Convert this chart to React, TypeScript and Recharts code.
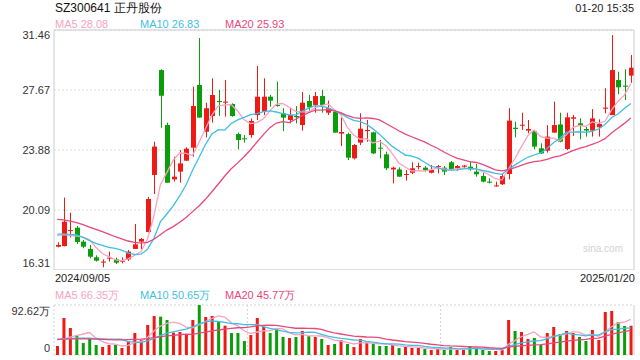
import React from 'react';
import { ComposedChart, Bar, Line, XAxis, YAxis, CartesianGrid, ReferenceLine, Cell } from 'recharts';

// daily candles, 2024/09/05 .. 2025/01/20
const opens = [
  17.78, 17.82, 18.77, 18.98, 18.10, 17.64, 17.11, 16.79, 17.03, 16.98,
  16.84, 16.98, 17.64, 18.10, 18.71, 22.31, 28.93, 25.46, 22.03, 22.52,
  23.21, 24.03, 27.99, 25.04, 26.03, 26.98, 26.87, 26.79, 24.89, 24.62,
  24.83, 26.09, 26.30, 27.25, 26.73, 26.20, 25.78, 26.03, 25.46, 26.98,
  26.73, 27.29, 26.24, 26.30, 24.92, 24.89, 23.36, 24.35, 25.08, 25.00,
  24.03, 23.61, 22.66, 22.66, 22.31, 22.45, 22.83, 22.77, 22.45, 22.83,
  22.77, 23.11, 22.73, 22.83, 22.83, 22.52, 22.24, 21.89, 21.61, 21.72,
  22.37, 25.29, 25.42, 25.11, 25.08, 23.99, 23.84, 24.98, 25.50, 23.95,
  25.86, 25.57, 25.21, 25.11, 25.32, 26.49, 26.09, 28.30, 27.95, 28.58,
];
const closes = [
  17.89, 19.36, 18.83, 18.08, 17.78, 17.15, 16.90, 16.84, 17.09, 16.77,
  16.90, 17.47, 17.93, 18.27, 20.79, 24.10, 27.31, 21.82, 22.20, 23.04,
  23.97, 26.66, 25.93, 26.52, 27.36, 26.91, 26.94, 26.03, 24.52, 24.56,
  25.72, 27.25, 27.25, 27.00, 26.66, 25.93, 26.09, 25.95, 26.87, 26.58,
  27.29, 26.73, 26.52, 24.98, 25.02, 23.40, 24.20, 25.23, 25.15, 23.67,
  23.97, 22.73, 22.77, 22.20, 22.37, 22.73, 22.87, 22.62, 22.62, 22.87,
  22.52, 22.62, 22.87, 22.90, 22.66, 22.35, 21.89, 21.82, 21.65, 22.24,
  25.74, 25.21, 25.48, 25.21, 24.10, 23.67, 24.73, 25.46, 24.41, 25.95,
  25.95, 25.42, 25.11, 25.88, 25.53, 26.56, 28.93, 27.84, 27.88, 29.08,
];
const highs = [
  18.06, 20.88, 19.93, 19.09, 18.20, 17.89, 17.24, 16.98, 17.47, 17.09,
  17.11, 17.57, 19.21, 18.33, 20.92, 24.41, 28.98, 25.61, 23.46, 23.88,
  24.05, 27.88, 30.95, 26.87, 28.41, 27.67, 28.30, 26.83, 24.98, 24.83,
  25.88, 29.19, 28.41, 27.36, 28.20, 26.52, 26.56, 26.66, 27.55, 27.36,
  27.55, 27.67, 27.00, 26.41, 25.93, 24.98, 24.26, 26.20, 25.78, 25.04,
  24.52, 23.78, 22.83, 22.79, 22.62, 23.11, 23.08, 22.87, 22.94, 22.94,
  22.87, 23.19, 22.94, 22.94, 23.15, 23.00, 22.45, 22.10, 21.89, 22.41,
  26.52, 25.67, 26.24, 25.78, 25.15, 24.31, 25.46, 26.94, 26.24, 26.24,
  26.09, 25.88, 25.36, 26.47, 25.82, 27.78, 31.14, 28.83, 28.98, 29.88,
];
const lows = [
  17.74, 17.80, 18.37, 17.95, 17.68, 17.05, 16.84, 16.48, 16.84, 16.69,
  16.73, 16.88, 17.64, 17.62, 18.69, 21.11, 25.29, 21.82, 21.89, 21.82,
  23.21, 23.46, 25.93, 24.68, 25.61, 26.03, 25.99, 25.99, 23.93, 24.35,
  24.66, 25.78, 26.09, 26.62, 26.62, 25.08, 25.57, 25.57, 25.11, 26.37,
  26.24, 26.24, 26.09, 24.98, 24.14, 23.25, 23.29, 24.20, 24.41, 23.63,
  23.36, 22.62, 21.78, 22.20, 21.95, 22.37, 22.66, 22.52, 22.41, 22.41,
  22.31, 22.58, 22.58, 22.73, 22.58, 22.20, 21.84, 21.78, 21.57, 21.68,
  22.03, 24.68, 25.15, 24.94, 23.93, 23.63, 23.72, 24.98, 24.37, 23.88,
  24.77, 24.56, 24.73, 24.73, 24.73, 26.20, 26.09, 27.40, 27.04, 28.13,
];
// volume in 万
const volumes = [
  16.7, 68.5, 50.0, 37.1, 22.2, 30.3, 18.5, 14.8, 18.5, 18.5,
  13.0, 24.7, 40.8, 28.4, 55.6, 72.2, 71.0, 64.8, 41.4, 42.6,
  38.3, 64.8, 92.62, 70.4, 72.2, 62.4, 54.3, 40.8, 40.8, 25.9,
  37.0, 68.5, 51.9, 40.8, 48.2, 33.3, 31.5, 33.3, 44.5, 35.2,
  33.3, 29.6, 18.5, 20.4, 27.8, 20.4, 14.8, 29.6, 22.2, 20.4,
  16.7, 16.7, 18.5, 13.0, 14.8, 13.0, 13.0, 11.1, 9.3, 11.1,
  9.3, 14.8, 9.3, 9.3, 16.7, 13.0, 9.3, 7.4, 7.4, 9.3,
  64.8, 44.5, 42.6, 29.6, 31.5, 18.5, 40.8, 51.9, 38.9, 44.5,
  40.8, 33.3, 25.9, 46.3, 27.8, 79.7, 81.5, 61.1, 53.7, 54.2,
];

// MA values before a full window exists
const ma5Head = [18.5, 18.55, 18.5, 18.45];
const ma10Head = [18.58, 18.58, 18.56, 18.52, 18.37, 18.16, 17.99, 17.87, 17.74];
const ma20Head = [19.51, 19.47, 19.40, 19.30, 19.17, 19.02, 18.88, 18.73, 18.58, 18.41,
  18.27, 18.14, 18.06, 18.01, 18.06, 18.25, 18.54, 18.83, 19.05];
const vma5Head = [28, 30, 33, 36];
const vma10Head = [29, 30, 30.5, 31, 31, 31, 30.5, 30, 29.5];
const vma20Head = [29, 29.5, 30, 30, 30, 30, 29.5, 29, 28.5, 28, 28, 28.5, 29, 29.5, 30.5, 32, 34, 35.5, 36.5];

const priceTicks = [16.31, 20.09, 23.88, 27.67, 31.46];
const volTicks = [0, 92.62];

const title = 'SZ300641 正丹股份';
const timeLabel = '01-20 15:35';
const startDate = '2024/09/05';
const endDate = '2025/01/20';
const priceLegend = ['MA5 28.08', 'MA10 26.83', 'MA20 25.93'];
const volLegend = ['MA5 66.35万', 'MA10 50.65万', 'MA20 45.77万'];

const RED = '#f01a14';
const GREEN = '#0a9e0a';
const MA_COLORS = ['#f8a2c2', '#3fbfe2', '#e8477e'];
const FONT = '"Liberation Sans", Arial, sans-serif';

const movingAvg = (vals: number[], n: number, head: number[]) =>
  vals.map((_, i) => {
    if (i < n - 1) return head[i];
    let s = 0;
    for (let k = i - n + 1; k <= i; k++) s += vals[k];
    return s / n;
  });

const ma5 = movingAvg(closes, 5, ma5Head);
const ma10 = movingAvg(closes, 10, ma10Head);
const ma20 = movingAvg(closes, 20, ma20Head);
const vma5 = movingAvg(volumes, 5, vma5Head);
const vma10 = movingAvg(volumes, 10, vma10Head);
const vma20 = movingAvg(volumes, 20, vma20Head);

const data = closes.map((c, i) => ({
  i,
  open: opens[i],
  close: c,
  high: highs[i],
  low: lows[i],
  range: [lows[i], highs[i]],
  ma5: ma5[i],
  ma10: ma10[i],
  ma20: ma20[i],
  vol: volumes[i],
  vma5: vma5[i],
  vma10: vma10[i],
  vma20: vma20[i],
}));

const Candle = (props: any) => {
  const { x, y, width, height, payload } = props;
  const { open, close, high, low } = payload;
  const color = close >= open ? RED : GREEN;
  const top = Math.min(y, y + height);
  const h = Math.abs(height);
  const ppu = h / (high - low);
  const bodyTop = top + (high - Math.max(open, close)) * ppu;
  const bodyH = Math.max(1, Math.abs(open - close) * ppu);
  const cx = Math.round(x + width / 2) + 0.5;
  return (
    <g>
      <line x1={cx} x2={cx} y1={top} y2={top + h} stroke={color} strokeWidth={1} />
      <rect x={cx - width / 2} y={bodyTop} width={width} height={bodyH} fill={color} />
    </g>
  );
};

const PriceTick = (props: any) => {
  const { x, y, payload } = props;
  let dy = 4;
  if (payload.value === priceTicks[priceTicks.length - 1]) dy = 9;
  if (payload.value === priceTicks[0]) dy = -3;
  return (
    <text x={x} y={y + dy} textAnchor="end" fontSize={11} fill="#333" fontFamily={FONT}>
      {payload.value.toFixed(2)}
    </text>
  );
};

const VolTick = (props: any) => {
  const { x, y, payload } = props;
  const isTop = payload.value === volTicks[1];
  return (
    <text x={x} y={y + (isTop ? 10 : -3)} textAnchor="end" fontSize={11} fill="#333" fontFamily={FONT}>
      {isTop ? payload.value.toFixed(2) + '万' : '0'}
    </text>
  );
};

const Legend = ({ items, top }: { items: string[]; top: number }) => (
  <>
    {items.map((t, k) => (
      <div key={t} style={{ position: 'absolute', left: 55 + k * 85, top, fontSize: 11, lineHeight: '14px', color: MA_COLORS[k], whiteSpace: 'nowrap' }}>
        {t}
      </div>
    ))}
  </>
);

const App = () => {
  return (
    <div style={{ position: 'absolute', left: 0, top: 0, width: 640, height: 360, background: '#fff', fontFamily: FONT, overflow: 'hidden' }}>
      <div style={{ position: 'absolute', left: 55, top: 1, fontSize: 12, lineHeight: '14px', color: '#111' }}>{title}</div>
      <div style={{ position: 'absolute', right: 6, top: 1, fontSize: 11, lineHeight: '14px', color: '#222' }}>{timeLabel}</div>
      <Legend items={priceLegend} top={17} />

      <div style={{ position: 'absolute', left: 0, top: 0 }}>
        <ComposedChart width={640} height={270} data={data} margin={{ top: 30, right: 0, bottom: 0, left: 0 }}>
          <CartesianGrid vertical={false} stroke="#dcdcdc" strokeDasharray="2 2" />
          <XAxis dataKey="i" type="category" hide />
          <YAxis
            domain={[16.31, 31.46]}
            ticks={priceTicks}
            interval={0}
            allowDataOverflow
            width={54}
            tickSize={0}
            tickMargin={4}
            tickLine={false}
            axisLine={{ stroke: '#cccccc' }}
            tick={<PriceTick />}
          />
          <YAxis yAxisId="r" orientation="right" width={6} domain={[16.31, 31.46]} tick={false} tickLine={false} axisLine={{ stroke: '#cccccc' }} />
          <ReferenceLine y={31.46} stroke="#cccccc" />
          <ReferenceLine y={16.31} stroke="#cccccc" />
          <Bar dataKey="range" barSize={5} shape={(p: any) => <Candle {...p} />} isAnimationActive={false} />
          <Line dataKey="ma5" type="linear" stroke={MA_COLORS[0]} strokeWidth={1.3} dot={false} activeDot={false} isAnimationActive={false} />
          <Line dataKey="ma10" type="linear" stroke={MA_COLORS[1]} strokeWidth={1.3} dot={false} activeDot={false} isAnimationActive={false} />
          <Line dataKey="ma20" type="linear" stroke={MA_COLORS[2]} strokeWidth={1.3} dot={false} activeDot={false} isAnimationActive={false} />
        </ComposedChart>
      </div>

      <div style={{ position: 'absolute', right: 17, top: 243, fontSize: 10, lineHeight: '12px', color: '#d2d2d2' }}>sina.com</div>
      <div style={{ position: 'absolute', left: 55, top: 271, fontSize: 11, lineHeight: '14px', color: '#222' }}>{startDate}</div>
      <div style={{ position: 'absolute', right: 5, top: 271, fontSize: 11, lineHeight: '14px', color: '#222' }}>{endDate}</div>
      <Legend items={volLegend} top={288} />

      <div style={{ position: 'absolute', left: 0, top: 300 }}>
        <ComposedChart width={640} height={60} data={data} margin={{ top: 5, right: 0, bottom: 5, left: 0 }}>
          <CartesianGrid
            stroke="#d4d4d4"
            strokeDasharray="2 2"
            verticalCoordinatesGenerator={({ offset }: any) => [offset.left, offset.left + offset.width / 3, offset.left + (offset.width * 2) / 3]}
          />
          <XAxis dataKey="i" type="category" hide />
          <YAxis
            domain={[0, 92.62]}
            ticks={volTicks}
            interval={0}
            allowDataOverflow
            width={54}
            tickSize={0}
            tickMargin={4}
            tickLine={false}
            axisLine={false}
            tick={<VolTick />}
          />
          <YAxis yAxisId="r" orientation="right" width={6} domain={[0, 92.62]} tick={false} tickLine={false} axisLine={{ stroke: '#cccccc' }} />
          <Bar dataKey="vol" barSize={3} isAnimationActive={false}>
            {data.map((d) => (
              <Cell key={d.i} fill={d.close >= d.open ? RED : GREEN} />
            ))}
          </Bar>
          <Line dataKey="vma5" type="linear" stroke={MA_COLORS[0]} strokeWidth={1.3} dot={false} activeDot={false} isAnimationActive={false} />
          <Line dataKey="vma10" type="linear" stroke={MA_COLORS[1]} strokeWidth={1.3} dot={false} activeDot={false} isAnimationActive={false} />
          <Line dataKey="vma20" type="linear" stroke={MA_COLORS[2]} strokeWidth={1.3} dot={false} activeDot={false} isAnimationActive={false} />
        </ComposedChart>
      </div>
    </div>
  );
};

export default App;
